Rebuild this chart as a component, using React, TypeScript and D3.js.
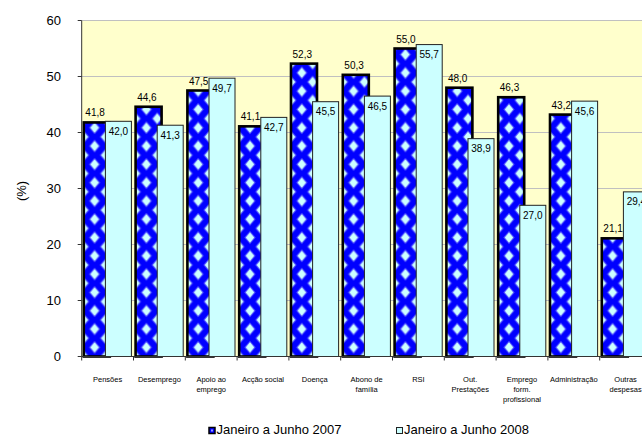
import * as d3 from 'd3';

const categories = [
  'Pensões',
  'Desemprego',
  'Apoio ao\nemprego',
  'Acção social',
  'Doença',
  'Abono de\nfamília',
  'RSI',
  'Out.\nPrestações',
  'Emprego\nform.\nprofissional',
  'Administração',
  'Outras\ndespesas',
];
const values2007 = [41.8, 44.6, 47.5, 41.1, 52.3, 50.3, 55.0, 48.0, 46.3, 43.2, 21.1];
const values2008 = [42.0, 41.3, 49.7, 42.7, 45.5, 46.5, 55.7, 38.9, 27.0, 45.6, 29.4];
const yTicks = [0, 10, 20, 30, 40, 50, 60];
const seriesNames = ['Janeiro a Junho 2007', 'Janeiro a Junho 2008'];

const W = 642;
const H = 436;
const plot = { left: 81.7, top: 20.5, right: 651.5, bottom: 356.5 };
const font = 'Arial, "Liberation Sans", sans-serif';
const BLUE = '#0000FF';
const CYAN = '#CCFFFF';
const YELLOW = '#FFFFCC';

const fmt = d3.formatLocale({ decimal: ',', thousands: '.', grouping: [3], currency: ['', ''] }).format('.1f');

const x = d3.scaleBand<string>().domain(categories).range([plot.left, plot.right]);
const y = d3.scaleLinear().domain([0, 60]).range([plot.bottom, plot.top]);

const App = (): JSX.Element => {
  const band = x.bandwidth();
  const bw = band * 0.502;
  const ov = 4.4;
  const groupW = 2 * bw - ov;
  const pw = bw - ov; // pattern tile width = visible width of 2007 bar
  const ph = 18.3;

  const diamond = (cx: number, cy: number, rx: number, ry: number) =>
    `${cx},${cy - ry} ${cx + rx},${cy} ${cx},${cy + ry} ${cx - rx},${cy}`;

  return (
    <svg width={W} height={H} style={{ position: 'absolute', left: 0, top: 0 }} fontFamily={font}>
      <defs>
        {categories.map((c, i) => {
          const bx = (x(c) as number) + (band - groupW) / 2;
          const pts = [[pw / 2, ph / 2], [0, 0], [pw, 0], [0, ph], [pw, ph]];
          return (
            <pattern key={c} id={`pat${i}`} patternUnits="userSpaceOnUse" x={bx} y={plot.bottom} width={pw} height={ph}>
              <rect width={pw} height={ph} fill={BLUE} />
              {pts.map(([px, py], k) => (
                <g key={k}>
                  <polygon points={diamond(px, py, 5.6, 6.6)} fill="#5555FF" />
                  <polygon points={diamond(px, py, 4.2, 5)} fill={CYAN} />
                </g>
              ))}
            </pattern>
          );
        })}
      </defs>

      <rect x={plot.left} y={plot.top} width={plot.right - plot.left} height={plot.bottom - plot.top} fill={YELLOW} />

      {yTicks.map(t => (
        <g key={t}>
          {t > 0 && (
            <line x1={plot.left} x2={plot.right} y1={y(t)} y2={y(t)} stroke="#C0C0C0" strokeWidth={1} />
          )}
          <line x1={plot.left - 4} x2={plot.left} y1={y(t)} y2={y(t)} stroke="#333" strokeWidth={1} />
          <text x={61} y={y(t) + 4.6} fontSize={13} textAnchor="end" fill="#000">{t}</text>
        </g>
      ))}

      <text transform={`translate(26,191) rotate(-90)`} fontSize={13} textAnchor="middle" fill="#000">(%)</text>

      {categories.map((c, i) => {
        const bx = (x(c) as number) + (band - groupW) / 2;
        return (
          <rect key={c} x={bx} y={y(values2007[i])} width={bw} height={plot.bottom - y(values2007[i])}
            fill={`url(#pat${i})`} stroke="#000" strokeWidth={2.6} />
        );
      })}
      {categories.map((c, i) => {
        const bx = (x(c) as number) + (band - groupW) / 2 + bw - ov;
        return (
          <rect key={c} x={bx} y={y(values2008[i])} width={bw} height={plot.bottom - y(values2008[i])}
            fill={CYAN} stroke="#222" strokeWidth={1} />
        );
      })}

      <line x1={plot.left} x2={plot.left} y1={plot.top} y2={plot.bottom} stroke="#333" strokeWidth={1} />
      <line x1={plot.left} x2={plot.right} y1={plot.bottom} y2={plot.bottom} stroke="#333" strokeWidth={1} />
      {categories.concat(['']).map((c, i) => {
        const tx = plot.left + i * band;
        return <line key={i} x1={tx} x2={tx} y1={plot.bottom} y2={plot.bottom + 4} stroke="#333" strokeWidth={1} />;
      })}

      {categories.map((c, i) => {
        const bx = (x(c) as number) + (band - groupW) / 2;
        return (
          <g key={c} fontSize={10} fill="#000" textAnchor="middle">
            <text x={bx + pw / 2 + 0.5} y={y(values2007[i]) - 6}>{fmt(values2007[i])}</text>
            <text x={bx + bw - ov + bw / 2} y={y(values2008[i]) + 13.5}>{fmt(values2008[i])}</text>
          </g>
        );
      })}

      {categories.map(c => (
        <text key={c} x={(x(c) as number) + band / 2} y={382} fontSize={7.5} textAnchor="middle" fill="#000">
          {c.split('\n').map((line, k) => (
            <tspan key={k} x={(x(c) as number) + band / 2} dy={k === 0 ? 0 : 10}>{line}</tspan>
          ))}
        </text>
      ))}

      <g>
        <rect x={209} y={427.5} width={6} height={6} fill={BLUE} stroke="#000" strokeWidth={1.5} />
        <rect x={211} y={429.5} width={2} height={2} fill="#9999FF" />
        <text x={216.5} y={433.5} fontSize={13} fill="#000">{seriesNames[0]}</text>
        <rect x={396.5} y={427.5} width={6} height={6} fill={CYAN} stroke="#222" strokeWidth={1} />
        <text x={404} y={433.5} fontSize={13} fill="#000">{seriesNames[1]}</text>
      </g>
    </svg>
  );
};

export default App;
